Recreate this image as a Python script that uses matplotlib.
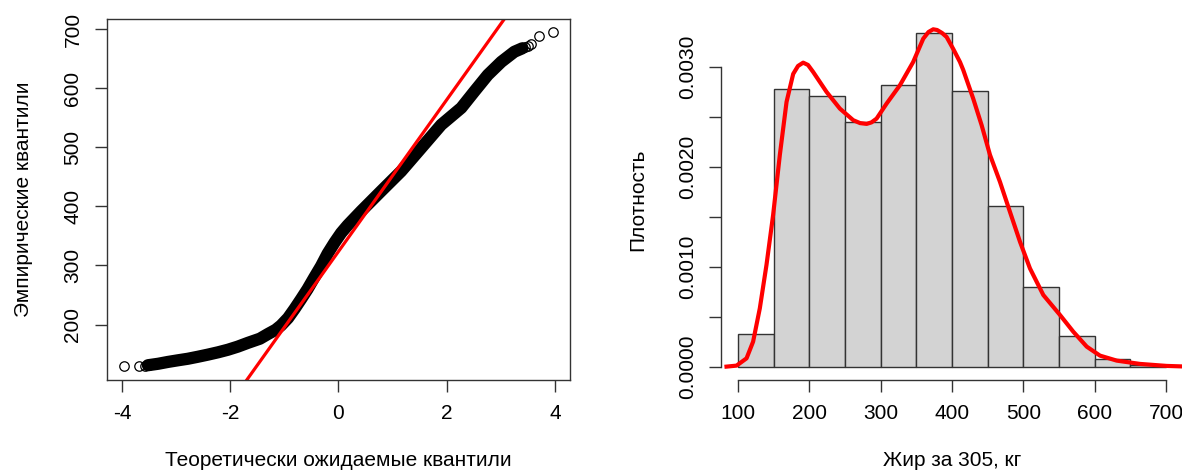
import matplotlib.pyplot as plt

plt.rcParams["font.family"] = ["Liberation Sans", "DejaVu Sans"]
plt.rcParams["axes.unicode_minus"] = False

qq_theor = [-3.52, -3.33, -3.15, -2.97, -2.78, -2.60, -2.41, -2.22, -2.04,
            -1.86, -1.67, -1.45, -1.30, -1.16, -1.06, -0.93, -0.81, -0.69,
            -0.57, -0.45, -0.32, -0.20, -0.07, 0.05, 0.17, 0.42, 0.79, 1.16,
            1.53, 1.90, 2.27, 2.51, 2.76, 3.01, 3.25, 3.40]
qq_emp = [131, 133.5, 136.6, 139.3, 142, 145.3, 149, 153, 157.3,
          162.5, 169, 176, 184, 191, 198.4, 211, 226.5, 243,
          260, 279, 299, 320, 339, 355, 368, 392, 426, 459.7,
          499, 538.4, 567, 594.6, 622.8, 645, 662, 668]
# isolated points in the tails
tail_theor = [-3.955, -3.69, -3.58, -3.50, 3.45, 3.50, 3.56, 3.70, 3.97]
tail_emp = [129.8, 129.8, 130.5, 131, 670, 672, 675, 689, 695.8]
qq_intercept = 323.6
qq_slope = 128.5

# histogram (density scale)
bin_edges = [100, 150, 200, 250, 300, 350, 400, 450, 500, 550, 600, 650, 700]
hist_density = [0.000327, 0.00278, 0.002713, 0.002447, 0.002817, 0.003343,
                0.002757, 0.00161, 0.000797, 0.000307, 0.000077, 0.00002]

# kernel density curve
kde_x = [83.7, 97.8, 111.8, 121, 130.4, 139.8, 149.1, 158.5, 167.9, 177.2,
         184, 191.2, 198, 205.2, 224, 242.7, 261.4, 271, 280.2, 287, 294.2,
         308.2, 326.9, 345.5, 359.6, 367, 373.6, 379, 386, 392.4, 401.7,
         411.1, 415.7, 429.7, 441.5, 453.2, 467.2, 481.2, 495.3, 509.3, 528,
         551.4, 570, 588.9, 607.5, 631, 663.6, 701, 722.6, 740]
kde_y = [0.0, 0.00001, 0.000083, 0.00025, 0.000583, 0.00102, 0.00152,
         0.00212, 0.00265, 0.00293, 0.00301, 0.003043, 0.00302, 0.00295,
         0.00275, 0.002583, 0.002467, 0.002438, 0.00243, 0.002445, 0.002483,
         0.002633, 0.002817, 0.00305, 0.003283, 0.00335, 0.003377, 0.00337,
         0.00334, 0.0033, 0.00318, 0.00305, 0.00297, 0.002683, 0.002417,
         0.00212, 0.00185, 0.00155, 0.00125, 0.000983, 0.000717, 0.000517,
         0.00035, 0.0002, 0.00011, 0.00006, 0.000027, 0.000007, 0.000002,
         0.0]

fig = plt.figure(figsize=(11.82, 4.71), dpi=100)
ax1 = fig.add_axes([0.0903, 0.1932, 0.392, 0.7658])
ax2 = fig.add_axes([0.610, 0.1932, 0.3909, 0.7658])

line_col = "#333333"
fs = 15

# left: QQ plot
ax1.plot(qq_theor, qq_emp, color="black", lw=8.8, solid_capstyle="round",
         solid_joinstyle="round")
ax1.plot(tail_theor, tail_emp, "o", ms=6.8, mfc="none", mec="black", mew=0.9)
ax1.axline((0, qq_intercept), slope=qq_slope, color="red", lw=2.3)
ax1.set_xlim(-4.28, 4.28)
ax1.set_ylim(106, 717)
ax1.set_xticks([-4, -2, 0, 2, 4])
ax1.set_yticks([200, 300, 400, 500, 600, 700])
for s in ax1.spines.values():
    s.set_color(line_col)
    s.set_linewidth(1.0)
ax1.tick_params(direction="out", length=8.5, width=1.0, color=line_col,
                labelsize=fs, pad=9)
ax1.tick_params(axis="y", pad=9)
for lab in ax1.get_yticklabels():
    lab.set_rotation(90)
    lab.set_va("center")
ax1.set_xlabel("Теоретически ожидаемые квантили", fontsize=fs, labelpad=20)
ax1.set_ylabel("Эмпирические квантили", fontsize=fs, labelpad=22)

# right: histogram with density curve
widths = [bin_edges[i + 1] - bin_edges[i] for i in range(len(hist_density))]
ax2.bar(bin_edges[:-1], hist_density, width=widths, align="edge",
        color="#d3d3d3", edgecolor=line_col, linewidth=1.0)
ax2.plot(kde_x, kde_y, color="red", lw=3.0)
ax2.set_xlim(76, 724)
ax2.set_ylim(-0.000134, 0.003477)
ax2.spines["top"].set_visible(False)
ax2.spines["right"].set_visible(False)
ax2.spines["left"].set_bounds(0, 0.003)
ax2.spines["bottom"].set_bounds(100, 700)
for s in ("left", "bottom"):
    ax2.spines[s].set_color(line_col)
    ax2.spines[s].set_linewidth(1.0)
ax2.set_xticks([100, 200, 300, 400, 500, 600, 700])
yt = [0, 0.0005, 0.001, 0.0015, 0.002, 0.0025, 0.003]
ax2.set_yticks(yt)
ax2.set_yticklabels(["0.0000", "", "0.0010", "", "0.0020", "", "0.0030"])
ax2.tick_params(direction="out", length=8.5, width=1.0, color=line_col,
                labelsize=fs, pad=9)
ax2.tick_params(axis="y", pad=9)
for lab in ax2.get_yticklabels():
    lab.set_rotation(90)
    lab.set_va("center")
ax2.set_xlabel("Жир за 305, кг", fontsize=fs, labelpad=20)
ax2.set_ylabel("Плотность", fontsize=fs, labelpad=22)

fig.savefig("out.png", dpi=100)
